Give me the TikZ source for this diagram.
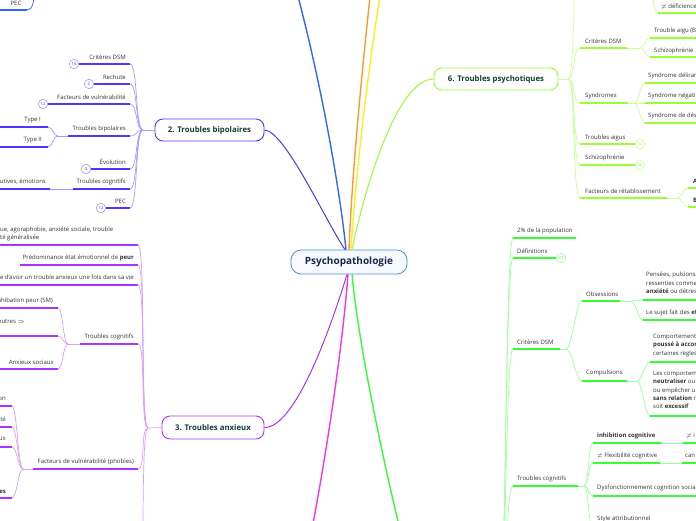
\documentclass[tikz,border=0pt]{standalone}
\usepackage{fontspec}
\setmainfont{Open Sans}
\usetikzlibrary{calc}
\definecolor{cBb}{HTML}{5533FF}
\definecolor{cBbl}{HTML}{A899FF}
\definecolor{cBa}{HTML}{AA33FF}
\definecolor{cBal}{HTML}{D5A0FF}
\definecolor{cBp}{HTML}{99FF33}
\definecolor{cBpl}{HTML}{CCFF99}
\definecolor{cG}{HTML}{33FF33}
\definecolor{cGl}{HTML}{A0FFA0}
\definecolor{cBl}{HTML}{3366FF}
\definecolor{cOr}{HTML}{FF9933}
\definecolor{cYe}{HTML}{F8F020}
\definecolor{cMa}{HTML}{FF33DD}
\definecolor{cRoot}{HTML}{4A90D0}
\definecolor{cRootF}{HTML}{F6FAFE}
\definecolor{rootT}{HTML}{1A2A4A}
\definecolor{txt}{HTML}{333333}
\definecolor{ttl}{HTML}{123F35}
\tikzset{
 lbl/.style={inner sep=0pt, text=txt, font=\fontsize{6}{8.3}\selectfont},
 ul/.style={line width=1.6pt},
 cv/.style={line width=0.7pt},
 badge/.style={circle, draw, line width=0.6pt, minimum size=9.5pt, inner sep=0pt, fill=white, font=\fontsize{4.4}{5}\selectfont},
 topic/.style={rounded corners=8pt, draw, line width=0.9pt, fill=white, text=ttl, font=\bfseries\fontsize{7.8}{9}\selectfont, inner sep=0pt},
 mmc/.style={to path={.. controls ($(\tikztostart)+(#1,0)$) and ($(\tikztotarget)+(-#1,0)$) .. (\tikztotarget)}},
 mmc/.default=8,
}
\begin{document}
\begin{tikzpicture}[x=1pt,y=-1pt]
\useasboundingbox (0,0) rectangle (696,520);
\clip (0,0) rectangle (696,520);

% ---------- main nodes
\node[rounded corners=10pt, draw=cRoot, line width=0.8pt, fill=cRootF, text=rootT, font=\bfseries\fontsize{10}{12}\selectfont, minimum width=116pt, minimum height=24pt, inner sep=0pt] (root) at (349,262) {Psychopathologie};
\node[topic,draw=cBb,minimum width=109pt,minimum height=22pt] (b2) at (209.5,130) {2. Troubles bipolaires};
\node[topic,draw=cBa,minimum width=102pt,minimum height=23pt] (b3) at (213,427.5) {3. Troubles anxieux};
\node[topic,draw=cBp,minimum width=124pt,minimum height=22pt] (b6) at (496,79) {6. Troubles psychotiques};

% off-canvas ends
\coordinate (zBl) at (285,-50);
\coordinate (zOr) at (374,-40);
\coordinate (zYe) at (386,-40);
\coordinate (zMa) at (306,560);
\coordinate (zG) at (410,570);

% ---------- root connectors
\draw[line width=1.4pt,cBl] ([xshift=-3pt]root.north) .. controls (340,190) and (318,60) .. (zBl);
\draw[line width=1.4pt,cOr] ([xshift=0pt]root.north) .. controls (352,170) and (364,50) .. (zOr);
\draw[line width=1.4pt,cYe] ([xshift=2pt]root.north) .. controls (356,170) and (370,50) .. (zYe);
\draw[line width=1pt,cBp] ([xshift=3pt]root.north) .. controls (362,200) and (395,79) .. (b6.west);
\draw[line width=1pt,cBb] ([xshift=-4pt]root.north) .. controls (325,220) and (285,131) .. (b2.east);
\draw[line width=1pt,cBa] ([xshift=-2pt]root.south) .. controls (330,330) and (295,428) .. (b3.east);
\draw[line width=1.4pt,cMa] ([xshift=-1pt]root.south) .. controls (343,340) and (328,450) .. (zMa);
\draw[line width=1.4pt,cG] ([xshift=3pt]root.south) .. controls (358,340) and (382,460) .. (zG);

% ---------- top-left blue remnant
\node[lbl] (pec0) at (16,3) {PEC};
\coordinate (pec0a) at (0,10); \coordinate (pec0b) at (27,10); \coordinate (pec0z) at (36,-20);
\draw[ul,cBl] (pec0a) -- (pec0b);
\draw[cv,cBl] (pec0b) .. controls (33,10) and (34,2) .. (pec0z);

% ---------- 2. Troubles bipolaires
\coordinate (b2h) at (143,130);
\draw[cv,cBbl] (b2h) -- (b2.west);
\node[lbl,anchor=east] (b2a) at (126,57) {Critères DSM};
\node[badge,draw=cBbl,text=cBb] (b2an) at (74,64) {16};
\coordinate (b2a1) at (130,64);
\draw[ul,cBb] (b2an.east) -- (b2a1); \draw[cv,cBbl] (b2a1) to[mmc] (b2h);
\node[lbl,anchor=east] (b2b) at (126,77) {Rechute};
\node[badge,draw=cBbl,text=cBb] (b2bn) at (89,84) {2};
\coordinate (b2b1) at (130,84);
\draw[ul,cBb] (b2bn.east) -- (b2b1); \draw[cv,cBbl] (b2b1) to[mmc] (b2h);
\node[lbl,anchor=east] (b2c) at (126,97) {Facteurs de vulnérabilité};
\node[badge,draw=cBbl,text=cBb] (b2cn) at (43,104) {12};
\coordinate (b2c1) at (130,104);
\draw[ul,cBb] (b2cn.east) -- (b2c1); \draw[cv,cBbl] (b2c1) to[mmc] (b2h);
\node[lbl,anchor=east] (b2d) at (126,129) {Troubles bipolaires};
\coordinate (b2dh) at (58,136); \coordinate (b2d0) at (68,136); \coordinate (b2d1) at (130,136);
\draw[cv,cBbl] (b2dh) -- (b2d0); \draw[ul,cBb] (b2d0) -- (b2d1); \draw[cv,cBbl] (b2d1) to[mmc] (b2h);
\node[lbl,anchor=east] (t1) at (41,120) {Type I};
\coordinate (t1a) at (0,127); \coordinate (t1b) at (48,127);
\draw[ul,cBb] (t1a) -- (t1b); \draw[cv,cBbl] (t1b) to[mmc=5] (b2dh);
\node[lbl,anchor=east] (t2) at (42,140) {Type II};
\coordinate (t2a) at (0,147); \coordinate (t2b) at (48,147);
\draw[ul,cBb] (t2a) -- (t2b); \draw[cv,cBbl] (t2b) to[mmc=5] (b2dh);
\node[lbl,anchor=east] (b2e) at (126,162) {Évolution};
\node[badge,draw=cBbl,text=cBb] (b2en) at (86,169) {4};
\coordinate (b2e1) at (130,169);
\draw[ul,cBb] (b2en.east) -- (b2e1); \draw[cv,cBbl] (b2e1) to[mmc] (b2h);
\node[lbl,anchor=east] (b2f) at (126,182) {Troubles cognitifs};
\coordinate (b2f0) at (73,189); \coordinate (b2f1) at (130,189);
\draw[ul,cBb] (b2f0) -- (b2f1); \draw[cv,cBbl] (b2f1) to[mmc] (b2h);
\node[lbl,anchor=east] (b2g) at (46,182) {Fonctions exécutives, émotions};
\coordinate (b2g0) at (0,189); \coordinate (b2g1) at (50,189);
\draw[ul,cBb] (b2g0) -- (b2g1); \draw[cv,cBbl] (b2g1) -- (b2f0);
\node[lbl,anchor=east] (b2i) at (126,201) {PEC};
\node[badge,draw=cBbl,text=cBb] (b2in) at (101,208) {12};
\coordinate (b2i1) at (130,208);
\draw[ul,cBb] (b2in.east) -- (b2i1); \draw[cv,cBbl] (b2i1) to[mmc] (b2h);

% ---------- 3. Troubles anxieux
\coordinate (b3h) at (148,428);
\draw[cv,cBal] (b3h) -- (b3.west);
\coordinate (b3z) at (138,600);
\draw[cv,cBal] (b3z) to[mmc] (b3h);
\node[lbl,anchor=west,align=left] (b3a) at (0,234) {ue, agoraphobie, anxiété sociale, trouble\\té généralisée};
\coordinate (b3a0) at (0,245); \coordinate (b3a1) at (138,245);
\draw[ul,cBa] (b3a0) -- (b3a1); \draw[cv,cBal] (b3a1) to[mmc] (b3h);
\node[lbl,anchor=east] (b3b) at (134,258) {Prédominance état émotionnel de \textbf{peur}};
\coordinate (b3b0) at (20,265); \coordinate (b3b1) at (138,265);
\draw[ul,cBa] (b3b0) -- (b3b1); \draw[cv,cBal] (b3b1) to[mmc] (b3h);
\node[lbl,anchor=east] (b3c) at (134,278) {Risque d'avoir un trouble anxieux une fois dans sa vie};
\coordinate (b3c0) at (0,285); \coordinate (b3c1) at (138,285);
\draw[ul,cBa] (b3c0) -- (b3c1); \draw[cv,cBal] (b3c1) to[mmc] (b3h);
\node[lbl,anchor=east] (b3d) at (134,337) {Troubles cognitifs};
\coordinate (b3dh) at (68,344); \coordinate (b3d0) at (80,344); \coordinate (b3d1) at (138,344);
\draw[cv,cBal] (b3dh) -- (b3d0); \draw[ul,cBa] (b3d0) -- (b3d1); \draw[cv,cBal] (b3d1) to[mmc] (b3h);
\node[lbl,anchor=east] (b3e) at (53,301) {Déficit d'inhibation peur (SM)};
\coordinate (b3e0) at (0,308); \coordinate (b3e1) at (58,308);
\draw[ul,cBa] (b3e0) -- (b3e1); \draw[cv,cBal] (b3e1) to[mmc=5] (b3dh);
\node[lbl,anchor=east] (b3f) at (25,321) {Stimuli neutres $\Rightarrow$};
\coordinate (b3f0) at (0,336); \coordinate (b3f1) at (58,336);
\draw[ul,cBa] (b3f0) -- (b3f1); \draw[cv,cBal] (b3f1) to[mmc=5] (b3dh);
\node[lbl,anchor=east] (b3g) at (54,362) {Anxieux sociaux};
\coordinate (b3g0) at (0,369); \coordinate (b3g1) at (58,369);
\draw[ul,cBa] (b3g0) -- (b3g1); \draw[cv,cBal] (b3g1) to[mmc=5] (b3dh);
\node[lbl,anchor=east] (b3i) at (134,462) {Facteurs de vulnérabilité (phobies)};
\coordinate (b3ih) at (23,469); \coordinate (b3i0) at (33,469); \coordinate (b3i1) at (138,469);
\draw[cv,cBal] (b3ih) -- (b3i0); \draw[ul,cBa] (b3i0) -- (b3i1); \draw[cv,cBal] (b3i1) to[mmc] (b3h);
\node[lbl,anchor=east] (f1) at (6,399) {on};
\coordinate (f1a) at (0,406); \coordinate (f1b) at (12,406);
\draw[ul,cBa] (f1a) -- (f1b); \draw[cv,cBal] (f1b) to[mmc=5] (b3ih);
\node[lbl,anchor=east] (f2) at (6,419) {té};
\coordinate (f2a) at (0,427); \coordinate (f2b) at (12,427);
\draw[ul,cBa] (f2a) -- (f2b); \draw[cv,cBal] (f2b) to[mmc=5] (b3ih);
\node[lbl,anchor=east] (f3) at (6,439) {ux};
\coordinate (f3a) at (0,447); \coordinate (f3b) at (12,447);
\draw[ul,cBa] (f3a) -- (f3b); \draw[cv,cBal] (f3b) to[mmc=5] (b3ih);
\node[lbl,anchor=east] (f4) at (6,492) {\textbf{es}};
\coordinate (f4a) at (0,498); \coordinate (f4b) at (12,498);
\draw[ul,cBa] (f4a) -- (f4b); \draw[cv,cBal] (f4b) to[mmc=5] (b3ih);

% ---------- 6. Troubles psychotiques
\coordinate (b6h) at (568,79);
\draw[cv,cBpl] (b6.east) -- (b6h);
\coordinate (b6z) at (580,-60);
\draw[cv,cBpl] (b6h) to[mmc] (b6z);
\coordinate (b6y) at (645,-30);
\node[lbl,anchor=west] (p0) at (661,7) {$\neq$ déficience};
\coordinate (p0a) at (658,13); \coordinate (p0b) at (700,13);
\draw[ul,cBp] (p0a) -- (p0b); \draw[cv,cBpl] (b6y) to[mmc=6] (p0a);
\node[lbl,anchor=west] (p1) at (585,41) {Critères DSM};
\coordinate (p1a) at (580,48); \coordinate (p1b) at (627,48); \coordinate (p1h) at (640,48);
\draw[cv,cBpl] (b6h) to[mmc] (p1a); \draw[ul,cBp] (p1a) -- (p1b); \draw[cv,cBpl] (p1b) -- (p1h);
\node[lbl,anchor=west] (p11) at (654,31) {Trouble aigu (B};
\coordinate (p11a) at (650,38); \coordinate (p11b) at (700,38);
\draw[cv,cBpl] (p1h) to[mmc=5] (p11a); \draw[ul,cBp] (p11a) -- (p11b);
\node[lbl,anchor=west] (p12) at (654,51) {Schizophrénie};
\coordinate (p12a) at (650,57); \coordinate (p12b) at (700,57);
\draw[cv,cBpl] (p1h) to[mmc=5] (p12a); \draw[ul,cBp] (p12a) -- (p12b);
\node[lbl,anchor=west] (p2) at (585,96) {Syndromes};
\coordinate (p2a) at (580,103); \coordinate (p2b) at (628,103); \coordinate (p2h) at (634,103);
\draw[cv,cBpl] (b6h) to[mmc] (p2a); \draw[ul,cBp] (p2a) -- (p2b); \draw[cv,cBpl] (p2b) -- (p2h);
\node[lbl,anchor=west] (p21) at (648,76) {Syndrome délirant};
\coordinate (p21a) at (645,83); \coordinate (p21b) at (700,83);
\draw[cv,cBpl] (p2h) to[mmc=5] (p21a); \draw[ul,cBp] (p21a) -- (p21b);
\node[lbl,anchor=west] (p22) at (648,96) {Syndrome négatif};
\coordinate (p22a) at (645,103); \coordinate (p22b) at (700,103);
\draw[cv,cBpl] (p2h) -- (p22a); \draw[ul,cBp] (p22a) -- (p22b);
\node[lbl,anchor=west] (p23) at (648,116) {Syndrome de désorganisation};
\coordinate (p23a) at (645,123); \coordinate (p23b) at (700,123);
\draw[cv,cBpl] (p2h) to[mmc=5] (p23a); \draw[ul,cBp] (p23a) -- (p23b);
\node[lbl,anchor=west] (p3) at (585,138) {Troubles aigus};
\coordinate (p3a) at (580,144);
\node[badge,draw=cBpl,text=cBp] (p3n) at (640,144) {10};
\draw[cv,cBpl] (b6h) to[mmc] (p3a); \draw[ul,cBp] (p3a) -- (p3n.west);
\node[lbl,anchor=west] (p4) at (585,158) {Schizophrénie};
\coordinate (p4a) at (580,165);
\node[badge,draw=cBpl,text=cBp] (p4n) at (640,165) {30};
\draw[cv,cBpl] (b6h) to[mmc] (p4a); \draw[ul,cBp] (p4a) -- (p4n.west);
\node[lbl,anchor=west] (p5) at (585,191) {Facteurs de rétablissement};
\coordinate (p5a) at (580,198); \coordinate (p5b) at (667,198); \coordinate (p5h) at (677,198);
\draw[cv,cBpl] (b6h) to[mmc] (p5a); \draw[ul,cBp] (p5a) -- (p5b); \draw[cv,cBpl] (p5b) -- (p5h);
\node[lbl,anchor=west] (p51) at (693,181) {\textbf{A}};
\coordinate (p51a) at (688,188); \coordinate (p51b) at (700,188);
\draw[cv,cBpl] (p5h) to[mmc=5] (p51a); \draw[ul,cBp] (p51a) -- (p51b);
\node[lbl,anchor=west] (p52) at (693,200) {\textbf{B}};
\coordinate (p52a) at (688,207); \coordinate (p52b) at (700,207);
\draw[cv,cBpl] (p5h) to[mmc=5] (p52a); \draw[ul,cBp] (p52a) -- (p52b);

% ---------- green branch (topic off canvas below)
\coordinate (g4h) at (498,640);
\node[lbl,anchor=west] (g1) at (517,231) {2\% de la population};
\coordinate (g1a) at (513,238); \coordinate (g1b) at (576,238);
\draw[cv,cGl] (g4h) to[mmc] (g1a); \draw[ul,cG] (g1a) -- (g1b);
\node[lbl,anchor=west] (g2) at (517,251) {Définitions};
\coordinate (g2a) at (513,258);
\node[badge,draw=cGl,text=cG] (g2n) at (561,258) {21};
\draw[cv,cGl] (g4h) to[mmc] (g2a); \draw[ul,cG] (g2a) -- (g2n.west);
\node[lbl,anchor=west] (g3) at (517,342) {Critères DSM};
\coordinate (g3a) at (513,349); \coordinate (g3b) at (560,349); \coordinate (g3h) at (566,349);
\draw[cv,cGl] (g4h) to[mmc] (g3a); \draw[ul,cG] (g3a) -- (g3b); \draw[cv,cGl] (g3b) -- (g3h);
\node[lbl,anchor=west] (g31) at (586,294) {Obsessions};
\coordinate (g31a) at (582,301); \coordinate (g31b) at (620,301); \coordinate (g31h) at (631,301);
\draw[cv,cGl] (g3h) to[mmc=6] (g31a); \draw[ul,cG] (g31a) -- (g31b); \draw[cv,cGl] (g31b) -- (g31h);
\node[lbl,anchor=north west,align=left] (g311) at (646,272) {Pensées, pulsions\\ressenties comme\\\textbf{anxiété} ou détresse};
\coordinate (g311a) at (643,300); \coordinate (g311b) at (700,300);
\draw[cv,cGl] (g31h) -- (g311a); \draw[ul,cG] (g311a) -- (g311b);
\node[lbl,anchor=west] (g312) at (646,313) {Le sujet fait des \textbf{efforts}};
\coordinate (g312a) at (643,320); \coordinate (g312b) at (700,320);
\draw[cv,cGl] (g31h) to[mmc=5] (g312a); \draw[ul,cG] (g312a) -- (g312b);
\node[lbl,anchor=west] (g32) at (586,373) {Compulsions};
\coordinate (g32a) at (582,381); \coordinate (g32b) at (627,381); \coordinate (g32h) at (637,381);
\draw[cv,cGl] (g3h) to[mmc=6] (g32a); \draw[ul,cG] (g32a) -- (g32b); \draw[cv,cGl] (g32b) -- (g32h);
\node[lbl,anchor=north west,align=left] (g321) at (653,334) {Comportements\\\textbf{poussé à accomplir}\\certaines règles};
\coordinate (g321a) at (650,362); \coordinate (g321b) at (700,362);
\draw[cv,cGl] (g32h) to[mmc=5] (g321a); \draw[ul,cG] (g321a) -- (g321b);
\node[lbl,anchor=north west,align=left] (g322) at (653,371) {Les comportements\\\textbf{neutraliser} ou\\ou empêcher un\\\textbf{sans relation} réaliste\\soit \textbf{excessif}};
\coordinate (g322a) at (650,416); \coordinate (g322b) at (700,416);
\draw[cv,cGl] (g32h) to[mmc=5] (g322a); \draw[ul,cG] (g322a) -- (g322b);
\node[lbl,anchor=west] (g4) at (517,479) {Troubles cognitifs};
\coordinate (g4a) at (513,486); \coordinate (g4b) at (578,486); \coordinate (g4f) at (584,486);
\draw[cv,cGl] (g4h) to[mmc] (g4a); \draw[ul,cG] (g4a) -- (g4b); \draw[cv,cGl] (g4b) -- (g4f);
\node[lbl,anchor=west] (g41) at (597,436) {\textbf{inhibition cognitive}};
\coordinate (g41a) at (593,443); \coordinate (g41b) at (661,443); \coordinate (g41c) at (683,443); \coordinate (g41d) at (700,443);
\draw[cv,cGl] (g4f) to[mmc=5] (g41a); \draw[ul,cG] (g41a) -- (g41b); \draw[cv,cGl] (g41b) -- (g41c); \draw[ul,cG] (g41c) -- (g41d);
\node[lbl,anchor=west] (g41x) at (686,436) {$\neq$ i};
\node[lbl,anchor=west] (g42) at (597,456) {$\neq$ Flexibilité cognitive};
\coordinate (g42a) at (593,463); \coordinate (g42b) at (660,463); \coordinate (g42c) at (682,463); \coordinate (g42d) at (700,463);
\draw[cv,cGl] (g4f) to[mmc=5] (g42a); \draw[ul,cG] (g42a) -- (g42b); \draw[cv,cGl] (g42b) -- (g42c); \draw[ul,cG] (g42c) -- (g42d);
\node[lbl,anchor=west] (g42x) at (685,456) {can};
\node[lbl,anchor=west] (g43) at (597,488) {Dysfonctionnement cognition sociale};
\coordinate (g43a) at (593,496); \coordinate (g43b) at (700,496);
\draw[cv,cGl] (g4f) to[mmc=5] (g43a); \draw[ul,cG] (g43a) -- (g43b);
\node[lbl,anchor=west] (g44) at (597,519) {Style attributionnel};
\coordinate (g44a) at (593,528);
\draw[cv,cGl] (g4f) to[mmc=5] (g44a);
\end{tikzpicture}
\end{document}
